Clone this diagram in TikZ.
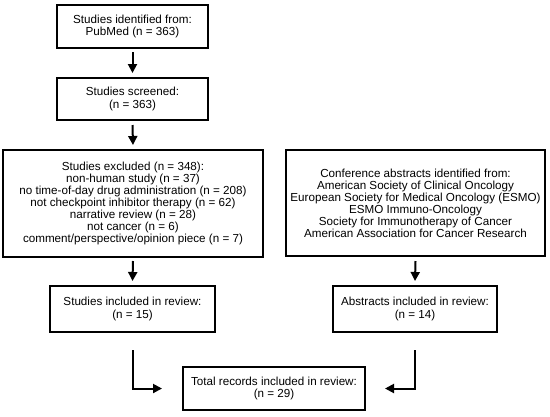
\documentclass[tikz,border=0pt]{standalone}
\usepackage{fontspec}
\setmainfont{Liberation Sans}
\usetikzlibrary{arrows.meta}
\begin{document}
\begin{tikzpicture}[x=1bp,y=-1bp,
  box/.style={draw=black,line width=2bp,align=center,inner sep=0pt,
    font=\fontsize{11.7}{12.1}\selectfont,text=black},
  arr/.style={line width=2bp,-{Triangle[length=9bp,width=9bp]}}]
\useasboundingbox[fill=white] (0,0) rectangle (550,416);
\node[box,minimum width=151bp,minimum height=43bp] (b1) at (132.5,26.5)
  {Studies identified from:\\PubMed (n = 363)};
\node[box,minimum width=151bp,minimum height=42bp] (b2) at (132.5,99)
  {Studies screened:\\(n = 363)};
\node[box,minimum width=260bp,minimum height=107bp] (b3) at (133,203.5)
  {Studies excluded (n = 348):\\non-human study (n = 37)\\no time-of-day drug administration (n = 208)\\not checkpoint inhibitor therapy (n = 62)\\narrative review (n = 28)\\not cancer (n = 6)\\comment/perspective/opinion piece (n = 7)};
\node[box,minimum width=165bp,minimum height=46bp] (b4) at (132.5,309)
  {Studies included in review:\\(n = 15)};
\node[box,minimum width=259bp,minimum height=106bp] (bc) at (415.5,203)
  {Conference abstracts identified from:\\American Society of Clinical Oncology\\European Society for Medical Oncology (ESMO)\\ESMO Immuno-Oncology\\Society for Immunotherapy of Cancer\\American Association for Cancer Research};
\node[box,minimum width=164bp,minimum height=46bp] (ba) at (415,309)
  {Abstracts included in review:\\(n = 14)};
\node[box,minimum width=182bp,minimum height=43bp] (bt) at (274,388.5)
  {Total records included in review:\\(n = 29)};
\draw[arr] ([yshift=-3bp]b1.south) -- ([yshift=4bp]b2.north);
\draw[arr] ([yshift=-4bp]b2.south) -- ([yshift=4bp]b3.north);
\draw[arr] ([yshift=-3bp]b3.south) -- ([yshift=4bp]b4.north);
\draw[arr] ([yshift=-4bp]bc.south) -- ([yshift=4bp]ba.north);
\draw[arr] ([yshift=-17bp]b4.south) |- ([xshift=-20bp]bt.west);
\draw[arr] ([yshift=-17bp]ba.south) |- ([xshift=19bp]bt.east);
\end{tikzpicture}
\end{document}
